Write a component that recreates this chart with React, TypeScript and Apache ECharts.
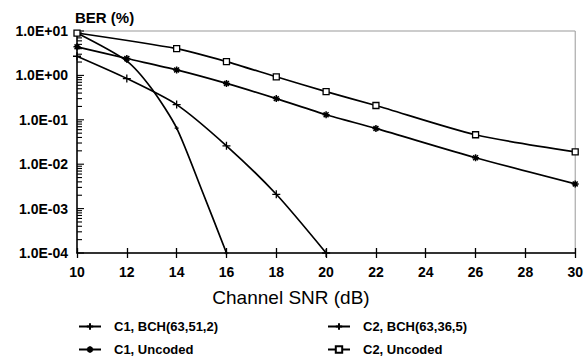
import React, { useEffect, useRef } from "react";
import * as echarts from "echarts";

// ---- data ----
const c2UncodedX = [10, 14, 16, 18, 20, 22, 26, 30];
const c2UncodedY = [9.0, 4.0, 2.05, 0.93, 0.43, 0.21, 0.046, 0.019];

const c1UncodedX = [10, 12, 14, 16, 18, 20, 22, 26, 30];
const c1UncodedY = [4.4, 2.4, 1.33, 0.66, 0.3, 0.13, 0.064, 0.014, 0.0036];

const c2BchX = [10, 12, 14, 16, 18, 20];
const c2BchY = [2.7, 0.85, 0.22, 0.026, 0.0021, 0.0001];

const c1BchX = [10, 12, 13, 14, 15, 16];
const c1BchY = [9.0, 2.1, 0.5, 0.065, 0.0027, 0.0001];
const c1BchMarkedX = [10, 12, 14, 16];

const legendNames = ["C1, BCH(63,51,2)", "C1, Uncoded", "C2, BCH(63,36,5)", "C2, Uncoded"];

const yTickLabels = ["1.0E-04", "1.0E-03", "1.0E-02", "1.0E-01", "1.0E+00", "1.0E+01"];
const yDecades = [0.0001, 0.001, 0.01, 0.1, 1];
const yMinorMultipliers = [1, 2, 3, 4, 5, 6, 7, 8, 9];

const FONT = "'Liberation Sans', Arial, Helvetica, sans-serif";

const PLUS = "path://M0,5L10,5M5,0L5,10";
const STAR = "path://M0,5L10,5M5,0L5,10M1.5,1.5L8.5,8.5M8.5,1.5L1.5,8.5";

export default function App() {
  const ref = useRef<HTMLDivElement>(null);
  useEffect(() => {
    if (!ref.current) return;
    const chart = echarts.init(ref.current, undefined, { renderer: "svg" });

    const lineStyle = { color: "#000", width: 1.7 };

    const tickData: number[][] = [];
    yDecades.forEach((d) => yMinorMultipliers.forEach((m) => tickData.push([10, d * m, m === 1 ? 1 : 0])));
    tickData.push([10, 10, 1]);

    const legendText = { color: "#000", fontFamily: FONT, fontWeight: "bold", fontSize: 13, padding: [0, 0, 0, 8] };
    const legendPos = [
      [78, 320],
      [78, 343],
      [327, 320],
      [327, 343],
    ];

    const option: any = {
      animation: false,
      backgroundColor: "#fff",
      grid: {
        left: 77,
        right: 10,
        top: 31,
        bottom: 105,
        show: true,
        borderColor: "#999",
        borderWidth: 1,
      },
      xAxis: [
        {
          type: "value",
          min: 10,
          max: 30,
          interval: 2,
          axisLine: { lineStyle: { color: "#000", width: 1.5 } },
          axisTick: { show: true, inside: false, length: 5, lineStyle: { color: "#000", width: 1.3 } },
          axisLabel: { color: "#000", fontFamily: FONT, fontWeight: "bold", fontSize: 14, margin: 12 },
          splitLine: { show: false },
        },
        {
          type: "value",
          min: 10,
          max: 30,
          interval: 2,
          position: "bottom",
          axisLine: { show: false },
          axisTick: { show: true, inside: true, length: 5, lineStyle: { color: "#000", width: 1.3 } },
          axisLabel: { show: false },
          splitLine: { show: false },
        },
      ],
      yAxis: {
        type: "log",
        logBase: 10,
        min: 0.0001,
        max: 10,
        axisLine: { show: true, lineStyle: { color: "#000", width: 1.5 } },
        axisTick: { show: false },
        splitLine: { show: false },
        axisLabel: {
          color: "#000",
          fontFamily: FONT,
          fontWeight: "bold",
          fontSize: 14,
          margin: 9,
          formatter: (v: number) => {
            const i = Math.round(Math.log10(v)) + 4;
            return yTickLabels[i] ?? "";
          },
        },
      },
      legend: legendNames.map((name, i) => ({
        orient: "horizontal",
        left: legendPos[i][0],
        top: legendPos[i][1],
        padding: 0,
        itemWidth: 22,
        itemHeight: 8,
        data: [name],
        textStyle: legendText,
      })),
      graphic: [
        {
          type: "text",
          left: 75,
          top: 10,
          style: { text: "BER (%)", fill: "#000", font: `bold 15px ${FONT}` },
        },
        {
          type: "text",
          x: 291,
          y: 297,
          style: {
            text: "Channel SNR (dB)",
            fill: "#000",
            font: `19px ${FONT}`,
            textAlign: "center",
            textVerticalAlign: "middle",
          },
        },
      ],
      series: [
        {
          name: "C1, BCH(63,51,2)",
          type: "line",
          smooth: 0.25,
          data: c1BchX.map((x, i) => ({
            value: [x, c1BchY[i]],
            symbol: c1BchMarkedX.includes(x) ? PLUS : "none",
          })),
          symbol: PLUS,
          symbolSize: 4,
          lineStyle,
          itemStyle: { color: "#000", borderColor: "#000", borderWidth: 1.2 },
        },
        {
          name: "C1, Uncoded",
          type: "line",
          smooth: 0.25,
          data: c1UncodedX.map((x, i) => [x, c1UncodedY[i]]),
          symbol: STAR,
          symbolSize: 7,
          lineStyle,
          itemStyle: { color: "#000", borderColor: "#000", borderWidth: 1.5 },
        },
        {
          name: "C2, BCH(63,36,5)",
          type: "line",
          smooth: 0.25,
          data: c2BchX.map((x, i) => [x, c2BchY[i]]),
          symbol: PLUS,
          symbolSize: 8,
          lineStyle,
          itemStyle: { color: "#000", borderColor: "#000", borderWidth: 1.3 },
        },
        {
          name: "C2, Uncoded",
          type: "line",
          smooth: 0.25,
          data: c2UncodedX.map((x, i) => [x, c2UncodedY[i]]),
          symbol: "rect",
          symbolSize: 6,
          lineStyle,
          itemStyle: { color: "#fff", borderColor: "#000", borderWidth: 1.3 },
        },
        {
          name: "yMinorTicks",
          type: "custom",
          clip: false,
          silent: true,
          data: tickData,
          renderItem: (_params: any, api: any) => {
            const p = api.coord([api.value(0), api.value(1)]);
            const len = api.value(2) ? 7 : 5;
            return {
              type: "line",
              shape: { x1: p[0], y1: p[1], x2: p[0] + len, y2: p[1] },
              style: { stroke: "#000", lineWidth: 1.1 },
            };
          },
        },
      ],
    };
    chart.setOption(option);
    return () => chart.dispose();
  }, []);
  return <div ref={ref} style={{ width: 586, height: 358, position: "absolute", left: 0, top: 0 }} />;
}
